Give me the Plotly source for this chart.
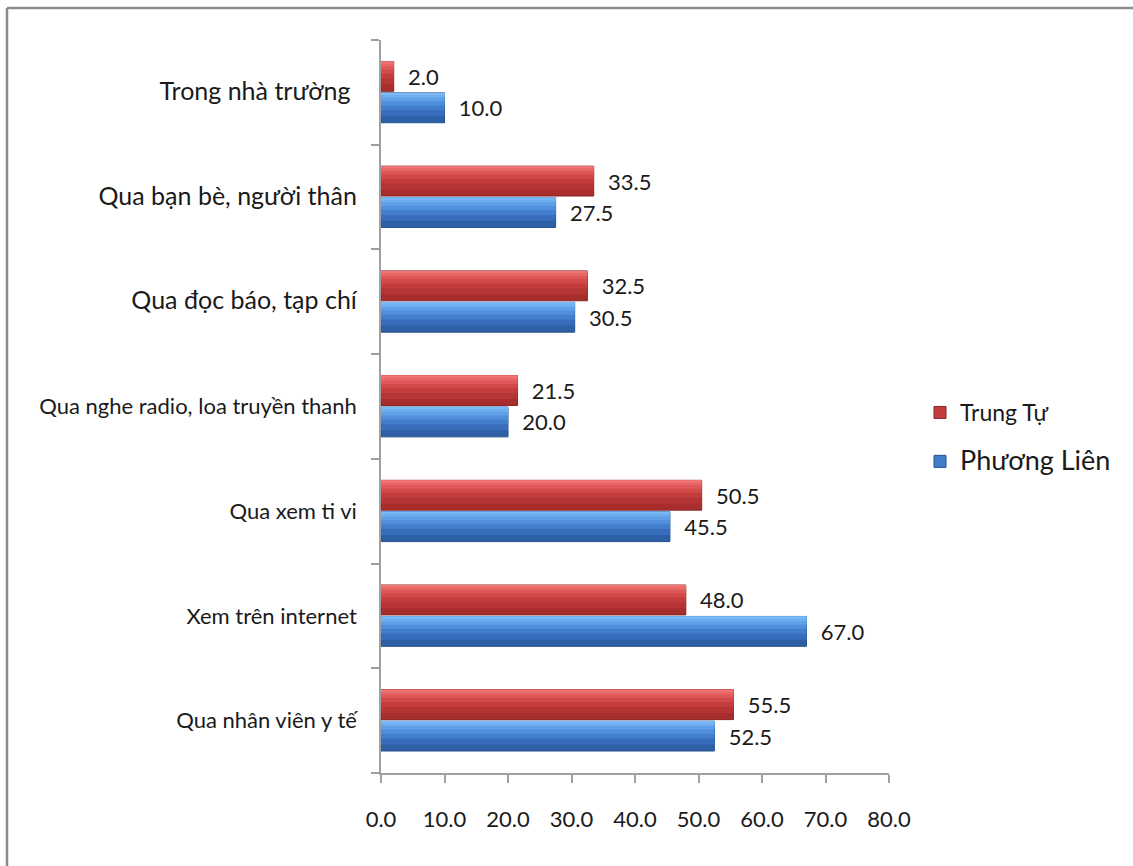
import plotly.graph_objects as go

categories = [
    "Qua nhân viên y tế",
    "Xem trên internet",
    "Qua xem ti vi",
    "Qua nghe radio, loa truyền thanh",
    "Qua đọc báo, tạp chí",
    "Qua bạn bè, người thân",
    "Trong nhà trường ",
]
big_label = [False, False, False, False, True, True, True]
phuong_lien = [52.5, 67.0, 45.5, 20.0, 30.5, 27.5, 10.0]
trung_tu = [55.5, 48.0, 50.5, 21.5, 32.5, 33.5, 2.0]
x_ticks = [0, 10, 20, 30, 40, 50, 60, 70, 80]

FONT = "Lato, 'Open Sans', sans-serif"
TXT = "#1a1a1a"

ticktext = [
    (f"<span style='font-size:25px'>{c}</span>" if b else c)
    for c, b in zip(categories, big_label)
]

fig = go.Figure()

BAR_H = 0.285
# glossy look: stacked layers (start fraction from bottom of bar, colour)
STEPS = [0.0, 0.22, 0.42, 0.58, 0.72, 0.84, 0.93]
RED_SHADES = ["#A82D2D", "#B53434", "#C33D3D", "#D14949", "#DE5858", "#E96767", "#F07474"]
BLUE_SHADES = ["#2E60A6", "#376DBA", "#437ECD", "#508FDC", "#5F9FE8", "#6EAEF0", "#7CBAF6"]


def add_series(values, name, legendrank, base_off, shades, edge, legend_color):
    for i, (f, col) in enumerate(zip(STEPS, shades)):
        first = i == 0
        fig.add_trace(go.Bar(
            y=categories, x=values, orientation="h",
            name=name, legendrank=legendrank, legendgroup=name,
            showlegend=False,
            offset=base_off + BAR_H * f, width=BAR_H * (1 - f),
            marker=dict(color=col, line=dict(color=edge, width=1) if first else dict(width=0)),
            texttemplate="  %{x:.1f}" if first else None,
            textposition="outside" if first else "none",
            textfont=dict(size=22, color=TXT, family=FONT),
            cliponaxis=False,
            hoverinfo="x+name" if first else "skip",
        ))
    # legend entry (no visible bars)
    fig.add_trace(go.Bar(
        y=[None], x=[None], orientation="h", name=name,
        legendrank=legendrank, legendgroup=name, showlegend=True,
        marker=dict(color=legend_color, line=dict(color=edge, width=1)),
    ))


add_series(phuong_lien, "<span style='font-size:27px'>Phương Liên</span>", 2,
           -BAR_H - 0.005, BLUE_SHADES, "#25508C", "#437ECD")
add_series(trung_tu, "Trung Tự", 1,
           0.01, RED_SHADES, "#8A2323", "#C33D3D")

W, H = 1133, 866
L, R, T, B = 381, 244, 40, 93
pw, ph = W - L - R, H - T - B


def px_to_paper_x(px):
    return (px - L) / pw


def px_to_paper_y(py):
    return 1 - (py - T) / ph


fig.update_layout(
    width=W, height=H,
    margin=dict(l=L, r=R, t=T, b=B),
    barmode="overlay",
    plot_bgcolor="white", paper_bgcolor="white",
    font=dict(family=FONT, size=22, color=TXT),
    legend=dict(
        x=px_to_paper_x(920), y=px_to_paper_y(437),
        xanchor="left", yanchor="middle",
        traceorder="grouped", tracegroupgap=16,
        font=dict(size=23, family=FONT, color=TXT),
        itemwidth=30,
    ),
    xaxis=dict(
        range=[0, 80], tickvals=x_ticks, ticktext=[f"{v:.1f}" for v in x_ticks],
        showgrid=False, zeroline=False, showline=True, linecolor="#A0A0A0", linewidth=1.5,
        ticks="outside", ticklen=8, tickcolor="#A0A0A0", tickwidth=1.5,
        tickfont=dict(size=22, family=FONT, color=TXT),
        ticklabelstandoff=18,
    ),
    yaxis=dict(
        type="category", categoryorder="array", categoryarray=categories,
        tickvals=categories, ticktext=ticktext,
        showgrid=False, zeroline=False, showline=True, linecolor="#A0A0A0", linewidth=1.5,
        ticks="outside", ticklen=8, tickcolor="#A0A0A0", tickwidth=1.5,
        tickson="boundaries",
        tickfont=dict(size=22, family=FONT, color=TXT),
        ticklabelstandoff=18,
    ),
    shapes=[
        dict(type="line", xref="paper", yref="paper",
             x0=px_to_paper_x(7), x1=px_to_paper_x(1133),
             y0=px_to_paper_y(8), y1=px_to_paper_y(8),
             line=dict(color="#8C8C8C", width=2.5)),
        dict(type="line", xref="paper", yref="paper",
             x0=px_to_paper_x(7), x1=px_to_paper_x(7),
             y0=px_to_paper_y(8), y1=px_to_paper_y(866),
             line=dict(color="#8C8C8C", width=2.5)),
    ],
)

fig.write_html("out.html", config={"displayModeBar": False},
               post_script="document.body.style.margin='0px';")
